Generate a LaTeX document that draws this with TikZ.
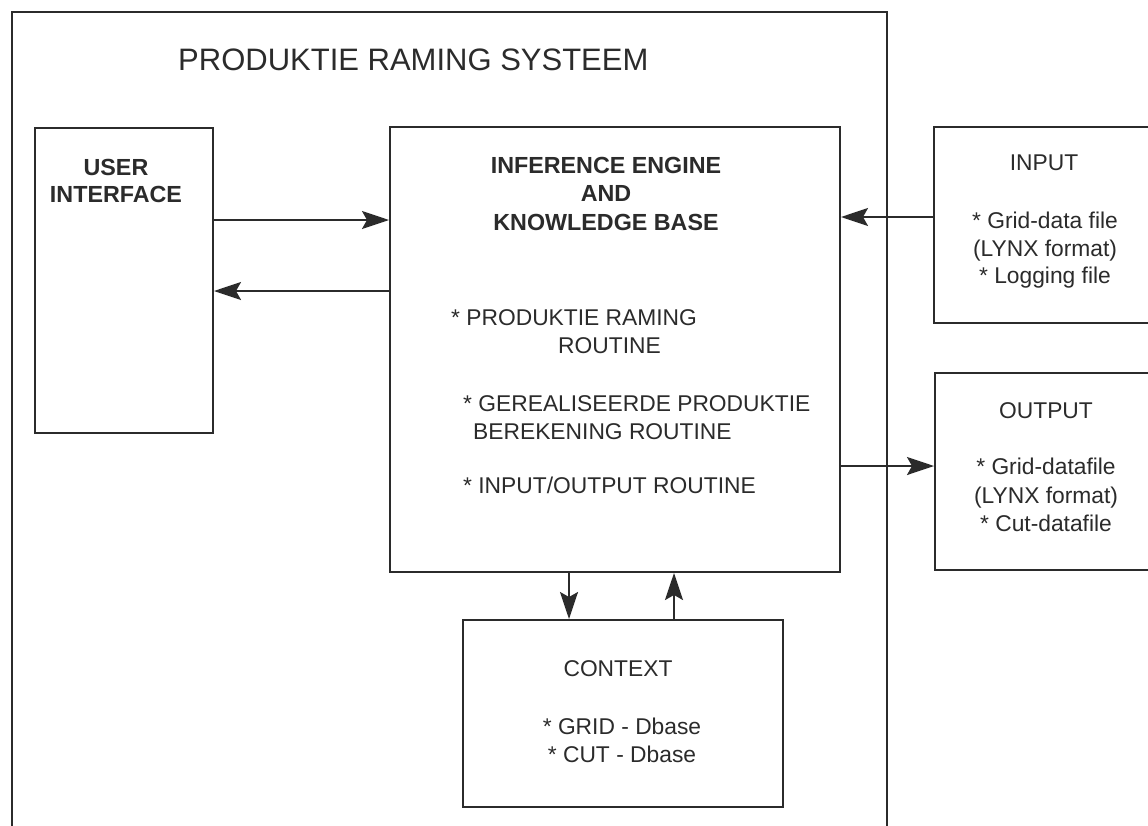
\documentclass[tikz,border=0pt]{standalone}
\usepackage{fontspec}
\setmainfont{Liberation Sans}
\usetikzlibrary{arrows.meta}
\definecolor{ink}{HTML}{2B2B2B}
\begin{document}
\begin{tikzpicture}[x=1pt,y=-1pt,
  box/.style={draw=ink, line width=2pt, rectangle, inner sep=0pt},
  conn/.style={draw=ink, line width=2pt, -{Stealth[length=27pt,width=18pt,inset=5pt]}},
  lbl/.style={inner sep=0pt, text=ink, font=\fontsize{22.8}{28}\selectfont},
  blbl/.style={inner sep=0pt, text=ink, font=\bfseries\fontsize{23.3}{28}\selectfont},
]
\useasboundingbox (0,0) rectangle (1148,825);
\clip (0,0) rectangle (1148,825);
\fill[white] (0,0) rectangle (1148,825);

% boxes
\node[box, minimum width=875pt, minimum height=900pt] (sys) at (449.5,462) {};
\node[box, minimum width=178pt, minimum height=305pt] (ui) at (124,280.5) {};
\node[box, minimum width=450pt, minimum height=445pt] (ie) at (615,349.5) {};
\node[box, minimum width=240pt, minimum height=196pt] (inp) at (1054,225) {};
\node[box, minimum width=240pt, minimum height=197pt] (outp) at (1055,471.5) {};
\node[box, minimum width=320pt, minimum height=187pt] (ctx) at (623,713.5) {};

% connector levels
\coordinate (y1) at (0,220);
\coordinate (y2) at (0,291);
\coordinate (y3) at (0,217);
\coordinate (y4) at (0,466);
\coordinate (x1) at (569,0);
\coordinate (x2) at (674,0);

\draw[conn] (ui.east |- y1) -- (ie.west |- y1);
\draw[conn] (ie.west |- y2) -- (ui.east |- y2);
\draw[conn] (inp.west |- y3) -- (ie.east |- y3);
\draw[conn] (ie.east |- y4) -- (outp.west |- y4);
\draw[conn] (ie.south -| x1) -- (ctx.north -| x1);
\draw[conn] (ctx.north -| x2) -- (ie.south -| x2);

% texts
\node[lbl, font=\fontsize{31}{36}\selectfont, anchor=base west] (title) at (178,70) {PRODUKTIE RAMING SYSTEEM};
\node[blbl, align=center, anchor=north, font=\bfseries\fontsize{23.3}{27}\selectfont] (uit) at (116,159) {USER\\INTERFACE};
\node[blbl, align=center, anchor=north, font=\bfseries\fontsize{23.3}{28.5}\selectfont] (iet) at (606,157) {INFERENCE ENGINE\\AND\\KNOWLEDGE BASE};
\node[lbl, anchor=base west] (r1) at (451,325) {* PRODUKTIE RAMING};
\node[lbl, anchor=base west] (r1b) at (558,353) {ROUTINE};
\node[lbl, anchor=base west] (r2) at (463,411) {* GEREALISEERDE PRODUKTIE};
\node[lbl, anchor=base west] (r2b) at (473,439) {BEREKENING ROUTINE};
\node[lbl, anchor=base west] (r3) at (463,493) {* INPUT/OUTPUT ROUTINE};

\node[lbl, anchor=north] (inpt) at (1044,155) {INPUT};
\node[lbl, align=center, anchor=north, font=\fontsize{22.8}{27.5}\selectfont] (inpi) at (1045,212) {* Grid-data file\\(LYNX format)\\* Logging file};
\node[lbl, anchor=north] (outt) at (1046,402) {OUTPUT};
\node[lbl, align=center, anchor=north, font=\fontsize{22.8}{28.5}\selectfont] (outi) at (1046,458) {* Grid-datafile\\(LYNX format)\\* Cut-datafile};
\node[lbl, anchor=north] (ctxt) at (618,660) {CONTEXT};
\node[lbl, align=center, anchor=north] (ctxi) at (622,718) {* GRID - Dbase\\* CUT - Dbase};
\end{tikzpicture}
\end{document}
